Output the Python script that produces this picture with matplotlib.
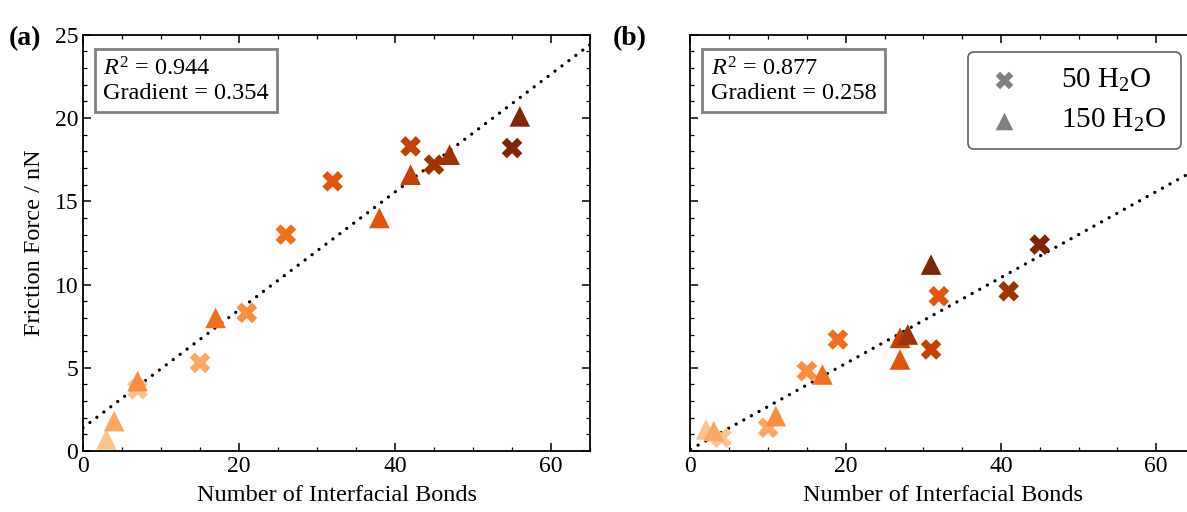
import numpy as np
from matplotlib import pyplot as plt
from matplotlib.ticker import MultipleLocator

plt.rcParams['font.family'] = ['Liberation Serif', 'DejaVu Serif']
plt.rcParams['mathtext.fontset'] = 'custom'
plt.rcParams['mathtext.rm'] = 'Liberation Serif'
plt.rcParams['mathtext.it'] = 'Liberation Serif:italic'

# panel (a)
a_cross_x = [7, 15, 21, 26, 32, 42, 45, 55]
a_cross_y = [3.7, 5.3, 8.3, 13.0, 16.2, 18.3, 17.2, 18.2]
a_cross_lvl = [0, 1, 2, 3, 4, 5, 6, 7]
a_tri_x = [3, 4, 7, 17, 38, 42, 47, 56]
a_tri_y = [0.7, 1.8, 4.2, 8.0, 14.0, 16.6, 17.8, 20.1]
a_tri_lvl = [0, 1, 2, 3, 4, 5, 6, 7]
a_r2, a_grad, a_icpt = 0.944, 0.354, 1.4

# panel (b)
b_cross_x = [4, 10, 15, 19, 32, 31, 41, 45]
b_cross_y = [0.8, 1.4, 4.8, 6.7, 9.3, 6.1, 9.6, 12.4]
b_cross_lvl = [0, 1, 2, 3, 4, 5, 6, 7]
b_tri_x = [2, 3, 11, 17, 27, 27, 28, 31]
b_tri_y = [1.3, 1.2, 2.1, 4.6, 5.5, 6.8, 7.0, 11.2]
b_tri_lvl = [0, 1, 2, 3, 4, 5, 6, 7]
b_r2, b_grad, b_icpt = 0.877, 0.258, 0.1

cmap = plt.get_cmap('Oranges')
shades = np.linspace(0.3, 1.0, 8)

fig = plt.figure(figsize=(11.87, 5.12), dpi=100)
ax_a = fig.add_axes([0.0699, 0.119, 0.4272, 0.813])
ax_b = fig.add_axes([0.5817, 0.119, 0.4250, 0.813])


def panel(ax, cx, cy, cl, tx, ty, tl, r2, grad, icpt):
  line_x = np.array([0, 65])
  ax.plot(line_x, icpt + grad * line_x, color='black', linestyle=(0, (0.01, 2.6)),
          linewidth=2.4, dash_capstyle='round', zorder=1)
  ax.scatter(cx, cy, c=[cmap(shades[l]) for l in cl], marker='X', s=220,
             linewidths=0, zorder=2)
  ax.scatter(tx, ty, c=[cmap(shades[l]) for l in tl], marker='^', s=220,
             linewidths=0, zorder=3)
  ax.set_xlim(0, 65)
  ax.set_ylim(0, 25)
  ax.xaxis.set_major_locator(MultipleLocator(20))
  ax.xaxis.set_minor_locator(MultipleLocator(5))
  ax.yaxis.set_major_locator(MultipleLocator(5))
  ax.yaxis.set_minor_locator(MultipleLocator(1))
  ax.tick_params(which='both', direction='in', top=True, right=True, labelsize=17)
  ax.tick_params(which='major', length=6, width=1.1)
  ax.tick_params(which='minor', length=3, width=0.9)
  for s in ax.spines.values():
    s.set_linewidth(1.3)
  ax.set_xlabel('Number of Interfacial Bonds', fontsize=17.5, labelpad=6)
  ax.text(0.04, 0.945, f'$R^2$ = {r2:.3f}\nGradient = {grad:.3f}',
          transform=ax.transAxes, ha='left', va='top', fontsize=17.5,
          linespacing=1.12,
          bbox=dict(boxstyle='square,pad=0.35', facecolor='white',
                    edgecolor='#808080', linewidth=2))


panel(ax_a, a_cross_x, a_cross_y, a_cross_lvl, a_tri_x, a_tri_y, a_tri_lvl,
      a_r2, a_grad, a_icpt)
panel(ax_b, b_cross_x, b_cross_y, b_cross_lvl, b_tri_x, b_tri_y, b_tri_lvl,
      b_r2, b_grad, b_icpt)

ax_a.set_ylabel('Friction Force / nN', fontsize=17.5, labelpad=7)
ax_b.tick_params(labelleft=False)

h1 = ax_b.scatter([], [], marker='X', s=160, color='#808080', linewidths=0)
h2 = ax_b.scatter([], [], marker='^', s=160, color='#808080', linewidths=0)
leg = ax_b.legend([h1, h2], ['50 H$_2$O', '150 H$_2$O'], loc='upper right',
                  bbox_to_anchor=(0.972, 0.958), fontsize=21, frameon=True,
                  fancybox=True, handletextpad=1.2, borderpad=0.5,
                  labelspacing=0.45, borderaxespad=0, handlelength=1.5)
leg.get_frame().set_edgecolor('#606060')
leg.get_frame().set_linewidth(1.2)
leg.get_frame().set_alpha(1)

fig.text(0.007, 0.925, '(a)', fontsize=20, fontweight='bold', va='center')
fig.text(0.516, 0.925, '(b)', fontsize=20, fontweight='bold', va='center')

plt.savefig('out.png', dpi=100)
